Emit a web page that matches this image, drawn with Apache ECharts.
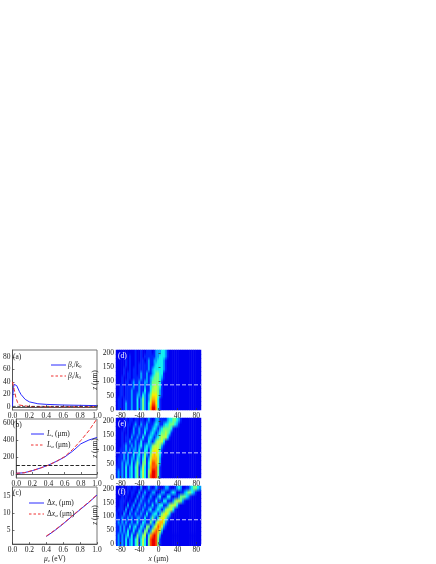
<!DOCTYPE html>
<html><head><meta charset="utf-8">
<style>html,body{margin:0;padding:0;background:#fff}#c{width:436px;height:564px}</style>
<script src="https://cdn.jsdelivr.net/npm/echarts@6/dist/echarts.min.js"></script>
</head><body><div id="c"></div>
<script>
const xTicksLeft=[0,0.2,0.4,0.6,0.8,1.0];
const yTicksA=[0,20,40,60,80];
const yTicksB=[0,200,400,600];
const yTicksC=[5,10,15];
const xTicksRight=[-80,-40,0,40,80];
const zTicks=[0,50,100,150,200];
const betaR=[[0,0],[0.005,20],[0.012,31],[0.02,36],[0.03,37],[0.05,34],[0.08,25],[0.1,20],[0.15,12],[0.2,8],[0.3,5],[0.4,4],[0.6,3],[0.8,2.5],[1,2]];
const betaI=[[0,40],[0.01,38],[0.02,28],[0.04,15],[0.06,7],[0.08,3],[0.1,1.5],[0.2,0.5],[0.4,0.2],[1,0.1]];
const refA=[[0,0.8],[1,0.8]];
const Ls=[[0,8],[0.1,15],[0.2,40],[0.3,70],[0.4,105],[0.5,150],[0.6,200],[0.7,270],[0.8,355],[0.9,400],[1,430]];
const La=[[0,8],[0.1,15],[0.2,40],[0.3,70],[0.4,105],[0.5,150],[0.6,205],[0.7,290],[0.8,395],[0.9,510],[1,650]];
const refB=[[0,100],[1,100]];
const dxS=[[0.4,3.3],[0.5,5],[0.6,6.9],[0.7,9],[0.8,11],[0.9,13],[1,15.2]];
const dxA=[[0.4,3.4],[0.5,5.1],[0.6,7],[0.7,9.1],[0.8,11.1],[0.9,13.1],[1,15.3]];
const dashZ=[88,88,88];
// Field levels 0-9; one string per z row (bottom first), one digit per 4 um column.
const fieldD=["011012112113124213799731","011012112113124213688631","011011112113124212577631","0011011121122132124666421","0011011121112113113555421","0011011112112112113455431","0001011012112112212444431","00010011011112112123444321","00001011011012112112344331","000010010110111112123333321","000001010010111112112333321","000001010010011012112233321","0000000100100101111112233321","0000000000100100111012223321"];
const fieldE=["121213123134135314899841","121213123134135314799841","111213123134125313788841","011212213124214413688752","011121212213213412577752","0011212113123124214676531","0011121212213113313566531","00011211212123123224555421","000101121121131113212455531","00010110211211311232123455531","000100101211211311232123445431","0000101002112112211232123444431","0000101101210211211123211233444321","00000101101101101210122111123344321"];
const fieldF=["121213123134135314899841","121213123134135314899841","121212313114224513789852","1121213113113214412578752","112121131231132144124687521","1212121121131132114214677521","11121121211221131124213566421","101021021121121131123312456531","01110201201211211231123212455531","0011002012012112111311233112455531","0011100100201211121113111331112455421","0001010010020121012101231013310112444321","0001001011002012101220012210123200112344321","000100110110020012101210012210012320011234432"];
const fieldColors=['#0000f0','#0024ff','#00a0ff','#10f0f0','#70ff80','#b8ff40','#f4f000','#ffb000','#ff5000','#e80000'];
const NX=45,NZ=14;
const cells=f=>{const o=[];f.forEach((r,j)=>{for(let i=0;i<NX;i++)o.push([i,j,+(r[i]||0)]);});return o;};

const font='Liberation Serif';
const ink='#222';
const GL=12,GR=116,W=85;
const rows=[[350,60],[419,59],[487,59]];
const rowsR=[[350,60],[418,60],[486,60]];
const yRanges=[[-5,91],[-47,647],[1.1,17.5]];
const yTickSets=[yTicksA,yTicksB,yTicksC];
const rich={i:{fontStyle:'italic',fontFamily:font,fontSize:7.5,color:ink},s:{fontSize:5,fontFamily:font,color:ink,verticalAlign:'bottom',padding:[3,0,0,0]},si:{fontSize:5,fontStyle:'italic',fontFamily:font,color:ink,verticalAlign:'bottom',padding:[3,0,0,0]},g:{fontFamily:font,fontSize:7.5,color:ink}};
const grid=[],xAxis=[],yAxis=[],series=[];
const tick={show:true,inside:true,length:2,lineStyle:{color:'#333',width:0.7}};
const lab=(vals,fmt)=>({show:true,customValues:vals,margin:2,fontSize:7.5,fontFamily:font,color:ink,hideOverlap:false,formatter:fmt});
const nameBase={fontSize:7.5,fontFamily:font,color:ink,rich};
rows.forEach((r,k)=>{
  grid.push({left:GL,top:r[0],width:W,height:r[1],show:true,borderColor:'#777',borderWidth:1,backgroundColor:'transparent'});
  xAxis.push({type:'value',gridIndex:k,min:0,max:1,splitLine:{show:false},axisLine:{lineStyle:{color:'#555',width:1}},axisTick:{...tick,customValues:xTicksLeft},axisLabel:lab(xTicksLeft,v=>v.toFixed(1)),
    ...(k===2?{name:'{i|μ}{si|c}{g| (eV)}',nameLocation:'middle',nameGap:9,nameTextStyle:nameBase}:{})});
  yAxis.push({type:'value',gridIndex:k,min:yRanges[k][0],max:yRanges[k][1],splitLine:{show:false},axisLine:{lineStyle:{color:'#555',width:1}},axisTick:{...tick,customValues:yTickSets[k]},axisLabel:lab(yTickSets[k])});
});
rowsR.forEach((r,k)=>{
  grid.push({left:GR,top:r[0],width:W,height:r[1]});
  xAxis.push({type:'value',gridIndex:3+k,min:-90,max:90,zlevel:1,splitLine:{show:false},axisLine:{show:false},axisTick:{...tick,customValues:xTicksRight},axisLabel:lab(xTicksRight),
    ...(k===2?{name:'{i|x}{g| (μm)}',nameLocation:'middle',nameGap:9,nameTextStyle:nameBase}:{})});
  yAxis.push({type:'value',gridIndex:3+k,min:0,max:210,zlevel:1,splitLine:{show:false},axisLine:{show:false},axisTick:{...tick,customValues:zTicks},axisLabel:lab(zTicks),
    name:'{i|z}{g| (μm)}',nameLocation:'middle',nameGap:11,nameTextStyle:nameBase});
});
rowsR.forEach((r,k)=>{
  xAxis.push({type:'category',gridIndex:3+k,show:false,data:Array.from({length:NX},(_,i)=>i)});
  yAxis.push({type:'category',gridIndex:3+k,show:false,data:Array.from({length:NZ},(_,i)=>i)});
});
const line=(ax,data,color,type,w,zl)=>series.push({type:'line',xAxisIndex:ax,yAxisIndex:ax,data,showSymbol:false,symbol:'none',silent:true,zlevel:zl||0,lineStyle:{color,width:w||1,type:type||'solid'},z:3});
line(0,betaR,'#2a2aff');line(0,betaI,'#f03030','dashed');line(0,refA,'#222','dashed',0.8);
line(1,Ls,'#2a2aff');line(1,La,'#f03030','dashed');line(1,refB,'#111','dashed',0.9);
line(2,dxS,'#2a2aff');line(2,dxA,'#f03030','dashed');
const hmIdx=[];
[fieldD,fieldE,fieldF].forEach((f,k)=>{
  hmIdx.push(series.length);
  series.push({type:'heatmap',xAxisIndex:6+k,yAxisIndex:6+k,data:cells(f),silent:true,progressive:0,itemStyle:{borderWidth:0},z:1});
});
dashZ.forEach((z,k)=>line(3+k,[[-90,z],[90,z]],'#c8c8ff','dashed',1,1));

const t=(x,y,text,extra)=>({type:'text',x,y,silent:true,zlevel:1,style:{text,font:'7.5px '+font,fill:ink,rich,textVerticalAlign:'middle',...extra}});
const seg=(x1,x2,y,color,dash)=>({type:'line',silent:true,zlevel:1,shape:{x1,y1:y,x2,y2:y},style:{stroke:color,lineWidth:1,lineDash:dash||null}});
const graphic={elements:[
 t(13,357,'(a)'),t(13,425,'(b)'),t(13,493,'(c)'),
 t(118,356,'(d)',{fill:'#fff'}),t(118,424,'(e)',{fill:'#fff'}),t(118,492,'(f)',{fill:'#fff'}),
 seg(51,66,365,'#2a2aff'),seg(51,66,376,'#f03030',[2.5,2]),
 t(68,365,'{i|β}{si|r}{g|/}{i|k}{s|0}'),t(68,376,'{i|β}{si|i}{g|/}{i|k}{s|0}'),
 seg(31,44,434,'#2a2aff'),seg(31,44,445,'#f03030',[2.5,2]),
 t(47,434,'{i|L}{si|s}{g| (μm)}'),t(47,445,'{i|L}{si|a}{g| (μm)}'),
 seg(29,44,503,'#2a2aff'),seg(29,44,514,'#f03030',[2.5,2]),
 t(47,503,'{g|Δ}{i|x}{si|s}{g| (μm)}'),t(47,514,'{g|Δ}{i|x}{si|a}{g| (μm)}')
]};
const chart=echarts.init(document.getElementById('c'),null,{renderer:'canvas'});
let softened=false;
// The reference field is smooth: soften the drawn heatmap cells inside each plot area only.
chart.on('finished',()=>{
  if(softened)return;softened=true;
  const base=chart.getDom().querySelectorAll('canvas')[0],ctx=base.getContext('2d');
  rowsR.forEach(r=>{
    const tmp=document.createElement('canvas');tmp.width=W;tmp.height=NZ;
    const tc=tmp.getContext('2d');tc.imageSmoothingEnabled=false;
    tc.drawImage(base,GR,r[0],W,r[1],0,0,W,NZ);
    ctx.save();ctx.beginPath();ctx.rect(GR,r[0],W,r[1]);ctx.clip();
    ctx.imageSmoothingEnabled=true;ctx.imageSmoothingQuality='medium';
    ctx.filter='blur(0.7px)';ctx.drawImage(tmp,0,0,W,NZ,GR,r[0],W,r[1]);ctx.restore();
  });
});
chart.setOption({animation:false,backgroundColor:'#fff',grid,xAxis,yAxis,series,graphic,
 visualMap:{type:'continuous',show:false,min:0,max:9,seriesIndex:hmIdx,dimension:2,inRange:{color:fieldColors}}});
</script></body></html>
